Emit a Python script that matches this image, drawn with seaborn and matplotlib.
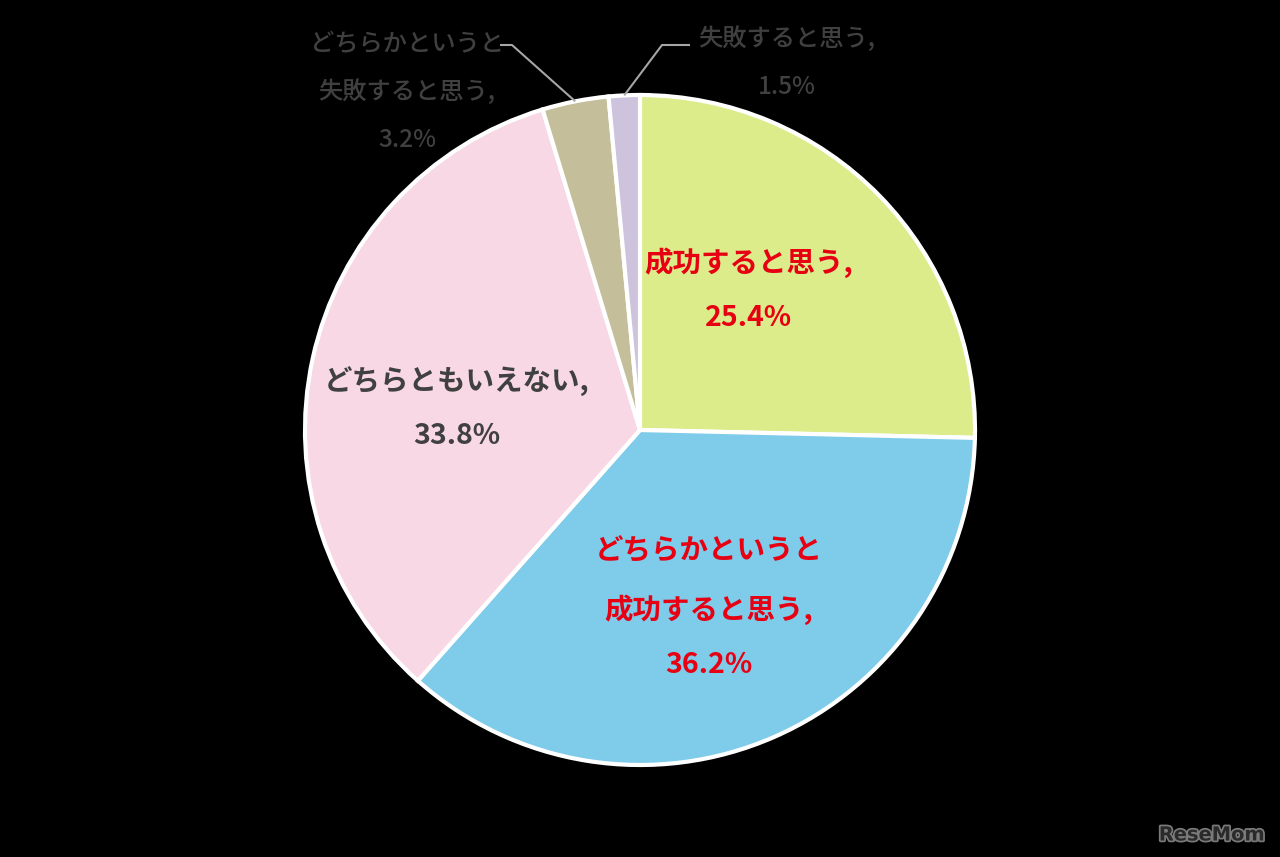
import numpy as np
import matplotlib.pyplot as plt
import matplotlib.patheffects as pe
import seaborn as sns

labels = ['成功すると思う', 'どちらかというと\n成功すると思う', 'どちらともいえない',
          'どちらかというと\n失敗すると思う', '失敗すると思う']
shares = [25.4, 36.2, 33.8, 3.2, 1.5]
colors = ['#DCEC8A', '#7ECBEA', '#F8D8E4', '#C4BE9A', '#CDC3DD']
label_colors = ['#E60012', '#E60012', '#404040', '#404040', '#404040']

sns.set_theme(style='white')
plt.rcParams['font.family'] = ['Noto Sans CJK JP', 'DejaVu Sans']

fig = plt.figure(figsize=(12.8, 8.57), dpi=100, facecolor='black')
ax = fig.add_axes([0, 0, 1, 1])
ax.set_facecolor('black')

# pie placed in pixel-like data coordinates
cx, cy, r = 640, 427, 335
wedges, _ = ax.pie(shares, colors=sns.color_palette(colors), startangle=90, counterclock=False,
                   center=(cx, cy), radius=r, frame=True,
                   wedgeprops=dict(edgecolor='white', linewidth=3))
ax.set_xlim(0, 1280)
ax.set_ylim(0, 857)
ax.set_aspect('equal')
ax.axis('off')

# labels inside the big slices
dist = [0.53, 0.57, 0.55]
shift = [8, -2.5, 5.5]
for i in range(3):
    w = wedges[i]
    a = np.deg2rad((w.theta1 + w.theta2) / 2 + shift[i])
    ax.text(cx + dist[i] * r * np.cos(a), cy + dist[i] * r * np.sin(a),
            f'{labels[i]},\n{shares[i]}%', ha='center', va='center',
            fontsize=20.5, fontweight='bold', color=label_colors[i], linespacing=2.2)

# small slices: labels outside with leader lines
elbows = [(512, 812, 500), (662, 812, 690)]
text_pos = [(407, 765), (787, 794)]
for k, i in enumerate([3, 4]):
    w = wedges[i]
    a = np.deg2rad((w.theta1 + w.theta2) / 2)
    x0, y0 = cx + r * np.cos(a), cy + r * np.sin(a)
    ex, ey, hx = elbows[k]
    ax.plot([x0, ex, hx], [y0, ey, ey], color='#A6A6A6', lw=1.5, solid_capstyle='butt')
    ax.text(text_pos[k][0], text_pos[k][1], f'{labels[i]},\n{shares[i]}%',
            ha='center', va='center', fontsize=17.5, fontweight='medium',
            color=label_colors[i], linespacing=2.1)

ax.text(1212, 22, 'ReseMom', ha='center', va='center', fontsize=14, fontweight='bold',
        color='#2a2a2a', family=['DejaVu Sans'],
        path_effects=[pe.withStroke(linewidth=2.5, foreground='#7a7a7a')])

fig.savefig('out.png', dpi=100, facecolor='black')
